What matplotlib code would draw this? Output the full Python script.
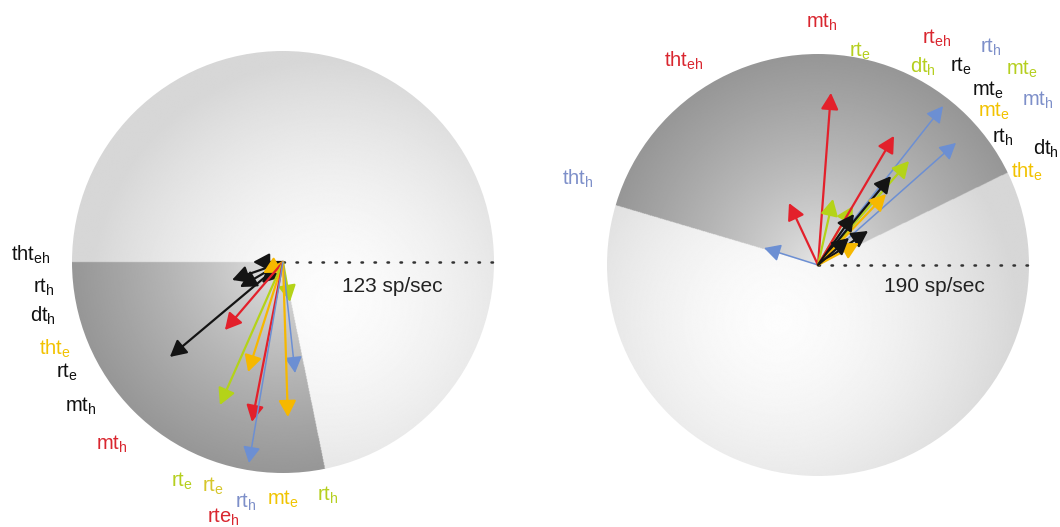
import numpy as np
import matplotlib
matplotlib.use("Agg")
import matplotlib.pyplot as plt
from matplotlib.patches import Circle

plt.rcParams['font.family'] = ['Liberation Sans', 'DejaVu Sans']
plt.rcParams['mathtext.default'] = 'regular'

# colours
BLACK = '#141414'
RED = '#e3202b'
GOLD = '#f6b800'
GREEN = '#b4d318'
BLUE = '#6c8fd3'

# left cell, 123 sp/sec: arrow direction (deg) and length (fraction of radius)
left_colors = [BLACK, BLACK, BLACK, BLACK, BLACK, GOLD, RED, GREEN, BLUE,
               GOLD, GREEN, RED, GOLD, BLUE]
left_angles = [180, 199.4, 210.2, 225, 220, 208.8, 229.5, 279.9, 276.2,
               252.4, 246.2, 259.0, 271.8, 260.4]
left_lengths = [0.142, 0.256, 0.236, 0.141, 0.70, 0.108, 0.424, 0.192, 0.529,
                0.547, 0.741, 0.772, 0.735, 0.966]
left_labels = ['tht_{eh}', 'rt_h', 'dt_h', 'tht_e', 'rt_e', 'mt_h', 'mt_h',
               'rt_e', 'rt_e', 'rt_h', 'rte_h', 'mt_e', 'rt_h']
left_label_colors = ['#111111', '#111111', '#111111', '#f2c200', '#111111',
                     '#111111', '#d9262f', '#b5cf1f', '#d6c62a', '#7d8fc9',
                     '#d9262f', '#f0c400', '#b5cf1f']
left_wedge = (180, 281.5)
left_rate = '123 sp/sec'

# right cell, 190 sp/sec
right_colors = [BLUE, RED, RED, GREEN, GREEN, RED, BLUE, BLUE, GREEN, BLACK,
                GOLD, BLACK, BLACK, GOLD, BLACK]
right_angles = [162.5, 115.1, 85.7, 77.2, 59.3, 59.5, 51.8, 41.5, 48.8, 50.6,
                46.2, 54.8, 34.2, 28.2, 41.1]
right_lengths = [0.268, 0.324, 0.818, 0.321, 0.325, 0.710, 0.958, 0.873, 0.655,
                 0.545, 0.466, 0.296, 0.287, 0.220, 0.195]
right_labels = ['mt_h', 'tht_{eh}', 'rt_e', 'rt_{eh}', 'rt_h', 'mt_e', 'dt_h',
                'rt_e', 'mt_e', 'mt_h', 'mt_e', 'rt_h', 'dt_h', 'tht_e', 'tht_h']
right_label_colors = ['#d9262f', '#d9262f', '#b5cf1f', '#d9262f', '#7d8fc9',
                      '#b5cf1f', '#b5cf1f', '#111111', '#111111', '#7d8fc9',
                      '#f2c200', '#111111', '#111111', '#f2c200', '#7d8fc9']
right_wedge = (26, 163.5)
right_rate = '190 sp/sec'

# layout (units of circle radius)
R = 211.0
left_label_pos = [(-1.194, 0.033), (-1.133, -0.118), (-1.137, -0.256),
                  (-1.081, -0.412), (-1.024, -0.521), (-0.957, -0.682),
                  (-0.810, -0.863), (-0.479, -1.038), (-0.332, -1.062),
                  (-0.175, -1.140), (-0.285, -1.212), (0.0, -1.123),
                  (0.213, -1.104)]
right_label_pos = [(0.019, 1.152), (-0.635, 0.967), (0.199, 1.014),
                   (0.564, 1.076), (0.820, 1.033), (0.967, 0.929),
                   (0.498, 0.938), (0.678, 0.943), (0.806, 0.829),
                   (1.043, 0.782), (0.834, 0.730), (0.877, 0.607),
                   (1.081, 0.550), (0.991, 0.441), (-1.137, 0.408)]

fig = plt.figure(figsize=(10.6, 5.27), dpi=100)
fig.patch.set_facecolor('white')


def shaded_disc(ax, wedge, bright):
    g = np.linspace(-1, 1, 700)
    X, Y = np.meshgrid(g, g)
    r = np.hypot(X, Y)
    th = np.degrees(np.arctan2(Y, X)) % 360
    d = np.hypot(X - bright[0], Y - bright[1])
    img = 0.99 - 0.15 * np.clip(d / 1.15, 0, 1) ** 1.6
    inw = (th >= wedge[0]) & (th <= wedge[1])
    dark = 0.91 - 0.32 * np.clip(r, 0, 1) ** 0.75
    img = np.where(inw, dark, img)
    im = ax.imshow(img, cmap='gray', vmin=0, vmax=1, origin='lower',
                   extent=(-1, 1, -1, 1), interpolation='bilinear', zorder=1)
    im.set_clip_path(Circle((0, 0), 1, transform=ax.transData))


def cell(rect, cx, cy, wedge, bright, colors, angles, lengths,
         labels, lcolors, lpos, rate, rate_pos):
    ax = fig.add_axes(rect)
    w = rect[2] * 1060
    x0 = rect[0] * 1060
    ax.set_xlim(-(cx - x0) / R, (x0 + w - cx) / R)
    ax.set_ylim(-(527 - cy) / R, cy / R)
    ax.axis('off')
    shaded_disc(ax, wedge, bright)
    ax.plot([0.0, 1.0], [0, 0], ls=(0, (0.6, 4.6)), lw=1.8, color='#333333',
            dash_capstyle='round', zorder=2)
    for c, a, l in zip(colors, angles, lengths):
        t = np.radians(a)
        lw = 1.1 if c == BLUE else 1.6
        ax.annotate('', xy=(l * np.cos(t), l * np.sin(t)), xytext=(0, 0),
                    arrowprops=dict(arrowstyle='-|>,head_length=0.45,head_width=0.24',
                                    color=c, lw=lw, mutation_scale=22,
                                    shrinkA=0, shrinkB=0), zorder=3)
    for s, c, p in zip(labels, lcolors, lpos):
        ax.text(p[0], p[1], '$' + s + '$', color=c, fontsize=14.5,
                ha='center', va='center', clip_on=False)
    ax.text(rate_pos[0], rate_pos[1], rate, fontsize=15, color='#222222',
            ha='center', va='center')
    return ax


cell([0, 0, 0.5, 1], 283, 262, left_wedge, (0.22, -0.18), left_colors,
     left_angles, left_lengths, left_labels, left_label_colors,
     left_label_pos, left_rate, (0.517, -0.114))
cell([0.5, 0, 0.5, 1], 818, 265, right_wedge, (-0.19, -0.26), right_colors,
     right_angles, right_lengths, right_labels, right_label_colors,
     right_label_pos, right_rate, (0.550, -0.100))

fig.savefig('out.png', dpi=100, facecolor='white')
